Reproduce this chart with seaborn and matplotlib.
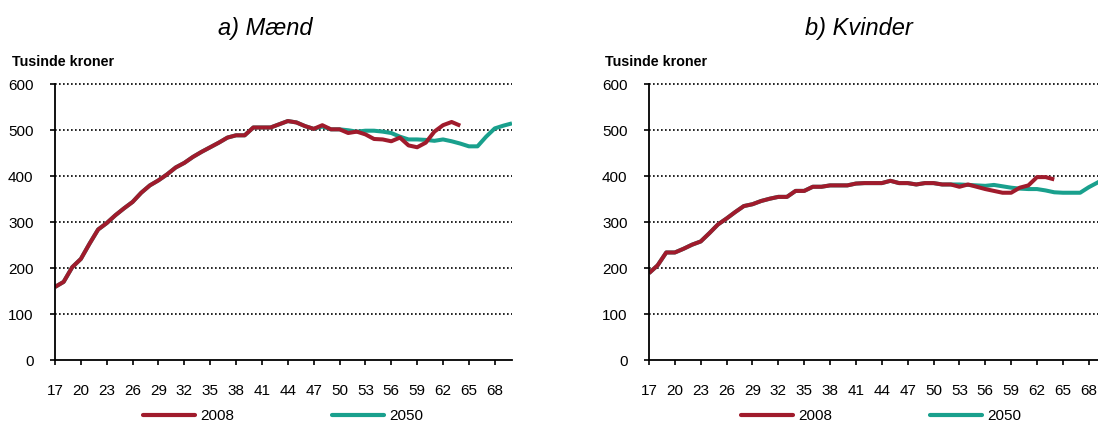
import pandas as pd
import matplotlib
matplotlib.use("Agg")
import matplotlib.pyplot as plt
import seaborn as sns

# ages 17..70
ages = list(range(17, 71))

# a) Maend, thousand DKK
men_2008 = [159, 170, 202, 220, 253, 284, 298, 315, 330, 344,
            364, 380, 391, 404, 419, 429, 442, 453, 463, 473,
            484, 489, 489, 506, 506, 506, 513, 520, 517, 509,
            503, 511, 502, 502, 494, 497, 491, 481, 480, 476,
            484, 467, 463, 473, 497, 511, 518, 510]
men_2050 = [159, 170, 202, 220, 253, 284, 298, 315, 330, 344,
            364, 380, 391, 404, 419, 429, 442, 453, 463, 473,
            484, 489, 489, 506, 506, 506, 513, 520, 517, 509,
            503, 508, 502, 502, 500, 497, 499, 499, 497, 494,
            486, 480, 480, 479, 477, 480, 476, 471, 465, 465,
            486, 504, 510, 515]

# b) Kvinder
women_2008 = [189, 206, 234, 234, 242, 251, 258, 276, 295, 308,
              322, 335, 339, 346, 351, 355, 355, 368, 368, 377,
              377, 380, 380, 380, 384, 385, 385, 385, 390, 385,
              385, 382, 385, 385, 382, 382, 377, 382, 377, 372,
              368, 364, 364, 375, 380, 398, 398, 393]
women_2050 = [189, 206, 234, 234, 242, 251, 258, 276, 295, 308,
              322, 335, 339, 346, 351, 355, 355, 368, 368, 377,
              377, 380, 380, 380, 384, 385, 385, 385, 390, 385,
              385, 382, 385, 385, 382, 382, 382, 381, 380, 379,
              381, 378, 375, 373, 372, 372, 369, 365, 364, 364,
              364, 376, 386, 397]

series_names = ["2008", "2050"]
titles = ["a) Mænd", "b) Kvinder"]
y_label = "Tusinde kroner"
colors = {"2008": "#A01B2C", "2050": "#19A08D"}


def long_df(v2008, v2050):
    return pd.concat([
        pd.DataFrame({"age": ages[:len(v2008)], "value": v2008, "year": "2008"}),
        pd.DataFrame({"age": ages[:len(v2050)], "value": v2050, "year": "2050"}),
    ], ignore_index=True)


sns.set_style("white")
plt.rcParams["font.family"] = ["Liberation Sans", "DejaVu Sans"]
plt.rcParams["text.color"] = "black"

fig = plt.figure(figsize=(10.98, 4.25), dpi=100)
W, H = 1098, 425
ax_left = [55, 649]
axes = [fig.add_axes([x0 / W, (H - 360) / H, 457 / W, (360 - 84.3) / H]) for x0 in ax_left]

panels = [long_df(men_2008, men_2050), long_df(women_2008, women_2050)]

for i, (ax, df) in enumerate(zip(axes, panels)):
    sns.lineplot(data=df, x="age", y="value", hue="year", hue_order=series_names,
                 palette=colors, linewidth=2.9, ax=ax, legend=True)
    # 2008 drawn on top
    ax.lines[0].set_zorder(4)
    ax.lines[1].set_zorder(3)
    for ln in ax.lines[:2]:
        ln.set_solid_capstyle("butt")

    ax.set_xlim(17, 70)
    ax.set_ylim(0, 600)
    ax.set_xticks(range(17, 70, 3))
    ax.set_yticks(range(0, 601, 100))
    ax.set_xlabel("")
    ax.set_ylabel("")
    for y in range(100, 601, 100):
        ax.axhline(y, color="black", lw=1.2, ls=(0, (1, 1.4)), zorder=1, clip_on=False)
    for s in ["top", "right"]:
        ax.spines[s].set_visible(False)
    for s in ["left", "bottom"]:
        ax.spines[s].set_color("black")
        ax.spines[s].set_linewidth(1.3)
        ax.spines[s].set_zorder(5)
    ax.tick_params(axis="x", direction="out", length=3.5, width=1.2, pad=14,
                   labelsize=11, colors="black", bottom=True)
    ax.tick_params(axis="y", direction="out", length=3.5, width=1.2, pad=12,
                   labelsize=11, colors="black", left=True)

    leg = ax.legend(loc="center", bbox_to_anchor=(0.5 + (4 / 457 if i else 0), -0.203),
                    ncol=2, frameon=False, fontsize=11, handlelength=3.4,
                    handletextpad=0.35, columnspacing=6.4, borderpad=0)
    for h in leg.get_lines():
        h.set_linewidth(3)

fig.text(265 / W, 1 - 28 / H, titles[0], ha="center", va="center",
         fontsize=17, style="italic")
fig.text(859 / W, 1 - 28 / H, titles[1], ha="center", va="center",
         fontsize=17, style="italic")
fig.text(12 / W, 1 - 62 / H, y_label, ha="left", va="center",
         fontsize=10.3, fontweight="bold")
fig.text(605 / W, 1 - 62 / H, y_label, ha="left", va="center",
         fontsize=10.3, fontweight="bold")

fig.savefig("out.png", dpi=100)
